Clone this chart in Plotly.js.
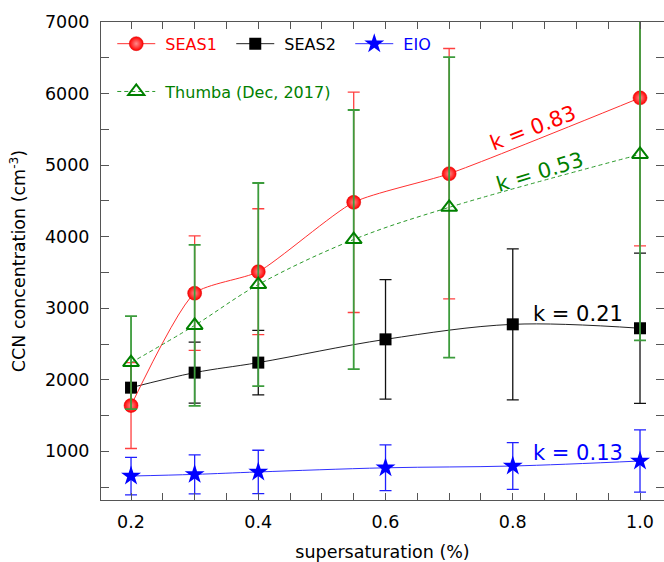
<!DOCTYPE html>
<html><head><meta charset="utf-8">
<script src="https://cdn.plot.ly/plotly-3.0.1.min.js"></script>
<style>html,body{margin:0;padding:0;background:#fff}</style>
</head><body><div id="chart" style="width:664px;height:562px"></div>
<script>
// ---- data ----
const ssSEAS1 = [0.2, 0.3, 0.4, 0.55, 0.7, 1.0];
const ccnSEAS1 = [1640, 3210, 3510, 4480, 4880, 5940];
const errSEAS1 = [600, 800, 880, 1540, 1750, 2070];

const ssSEAS2 = [0.2, 0.3, 0.4, 0.6, 0.8, 1.0];
const ccnSEAS2 = [1890, 2100, 2240, 2565, 2775, 2720];
const errSEAS2 = [300, 425, 450, 835, 1055, 1050];

const ssEIO = [0.2, 0.3, 0.4, 0.6, 0.8, 1.0];
const ccnEIO = [655, 678, 712, 770, 795, 865];
const errEIO = [262, 272, 303, 320, 326, 435];

const ssThumba = [0.2, 0.3, 0.4, 0.55, 0.7, 1.0];
const ccnThumba = [2240, 2760, 3330, 3960, 4410, 5150];
const errThumba = [650, 1125, 1420, 1810, 2100, 2600];

const seriesNames = ['SEAS1', 'SEAS2', 'EIO', 'Thumba (Dec, 2017)'];
const kLabels = ['k = 0.83', 'k = 0.53', 'k = 0.21', 'k = 0.13'];
const kPosX = [0.832, 0.843, 0.903, 0.902];
const kPosY = [5520, 4900, 2920, 980];

const FONT = 'DejaVu Sans, sans-serif';
const RED = '#ff0000', BLACK = '#000000', BLUE = '#0000ff', GREEN = '#008000';
const NB = '\u00a0';

function errOpts(arr, color, th) {
  return {type: 'data', array: arr, visible: true, color: color, thickness: th, width: 6};
}

const traces = [
  {
    x: ssSEAS2, y: ccnSEAS2, name: '<span style="color:#000000">' + NB + seriesNames[1] + '</span>',
    mode: 'lines+markers', legend: 'legend', legendrank: 2,
    line: {color: '#222222', width: 1, shape: 'spline', smoothing: 1},
    marker: {symbol: 'square', size: 12, color: BLACK},
    error_y: errOpts(errSEAS2, '#111111', 1.3)
  },
  {
    x: ssSEAS1, y: ccnSEAS1, name: '<span style="color:#ff0000">' + NB + seriesNames[0] + '</span>',
    mode: 'lines+markers', legend: 'legend', legendrank: 1,
    line: {color: '#ff3030', width: 1, shape: 'spline', smoothing: 0.6},
    marker: {symbol: 'circle', size: 14, color: RED, gradient: {type: 'radial', color: '#ff8a8a'},
             line: {color: '#dd0000', width: 0.5}},
    error_y: errOpts(errSEAS1, '#ff4040', 1.3)
  },
  {
    x: ssEIO, y: ccnEIO, name: '<span style="color:#0000ff">' + NB + seriesNames[2] + '</span>',
    mode: 'lines+markers', legend: 'legend', legendrank: 3,
    line: {color: '#3030ff', width: 1, shape: 'spline', smoothing: 1},
    marker: {symbol: 'star', size: 15, color: BLUE},
    error_y: errOpts(errEIO, '#2020ff', 1.3)
  },
  {
    x: ssThumba, y: ccnThumba, name: '<span style="color:#008000">' + NB + seriesNames[3] + '</span>',
    mode: 'lines+markers', legend: 'legend2',
    line: {color: '#2a9a2a', width: 1, dash: '4px,3px', shape: 'spline', smoothing: 1},
    marker: {symbol: 'triangle-up-open', size: 14, color: GREEN, line: {width: 2, color: GREEN}},
    error_y: errOpts(errThumba, '#3c9c3c', 1.8)
  }
];

const kColors = [RED, GREEN, BLACK, BLUE];
const kAngles = [-21, -17, 0, 0];
const annotations = kLabels.map((t, i) => ({
  x: kPosX[i], y: kPosY[i], xref: 'x', yref: 'y', text: t, showarrow: false,
  textangle: kAngles[i], font: {family: FONT, size: 21, color: kColors[i]},
  xanchor: 'center', yanchor: 'middle'
}));

const layout = {
  width: 664, height: 562,
  margin: {l: 101, r: 0, t: 22, b: 62},
  paper_bgcolor: '#ffffff', plot_bgcolor: '#ffffff',
  font: {family: FONT, size: 17.5, color: '#000000'},
  showlegend: true,
  legend: {
    orientation: 'h', x: 0.02, y: 0.99, xanchor: 'left', yanchor: 'top',
    bgcolor: 'rgba(0,0,0,0)', borderwidth: 0, font: {family: FONT, size: 16},
    entrywidthmode: 'pixels', entrywidth: 66, itemwidth: 38, traceorder: 'normal'
  },
  legend2: {
    orientation: 'h', x: 0.02, y: 0.89, xanchor: 'left', yanchor: 'top',
    bgcolor: 'rgba(0,0,0,0)', borderwidth: 0, font: {family: FONT, size: 16}, itemwidth: 38
  },
  xaxis: {
    range: [0.1528, 1.0377], tickvals: [0.2, 0.4, 0.6, 0.8, 1.0], ticktext: ['0.2', '0.4', '0.6', '0.8', '1.0'],
    ticks: 'inside', ticklen: 7, tickcolor: '#555555', tickwidth: 1,
    minor: {dtick: 0.05, tick0: 0, ticks: 'inside', ticklen: 7, tickcolor: '#555555', showgrid: false},
    showline: true, linecolor: '#555555', linewidth: 1, mirror: 'ticks',
    showgrid: false, zeroline: false, ticklabelstandoff: 6,
    tickfont: {family: FONT, size: 17.5, color: '#000000'},
    title: {text: 'supersaturation (%)', font: {family: FONT, size: 17.5, color: '#000000'}, standoff: 14}
  },
  yaxis: {
    range: [320, 7000], tickvals: [1000, 2000, 3000, 4000, 5000, 6000, 7000],
    ticks: 'inside', ticklen: 8, tickcolor: '#555555', tickwidth: 1,
    minor: {dtick: 500, tick0: 0, ticks: 'inside', ticklen: 8, tickcolor: '#555555', showgrid: false},
    showline: true, linecolor: '#555555', linewidth: 1, mirror: 'ticks',
    showgrid: false, zeroline: false, ticklabelstandoff: 7,
    tickfont: {family: FONT, size: 17.5, color: '#000000'},
    title: {text: 'CCN concentration (cm<sup>-3</sup>)', font: {family: FONT, size: 17.5, color: '#000000'}, standoff: 14}
  },
  annotations: annotations
};

Plotly.newPlot('chart', traces, layout, {displayModeBar: false, staticPlot: true});
</script>
</body></html>
